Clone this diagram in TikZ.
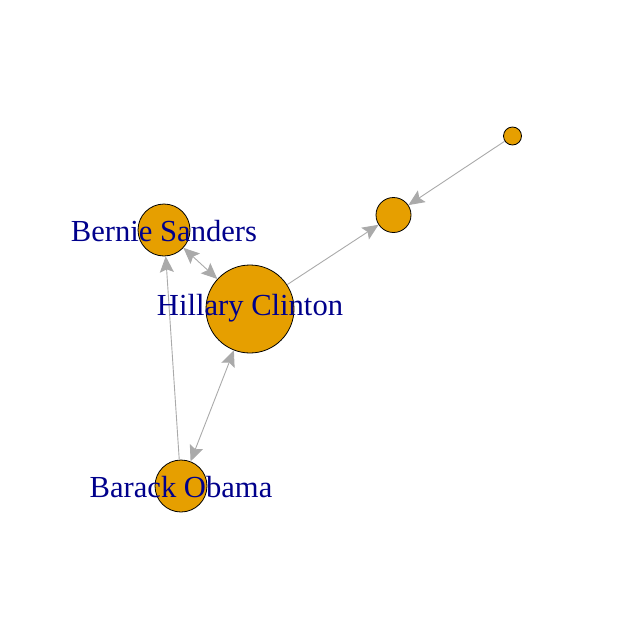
\documentclass[tikz,border=0pt]{standalone}
\usepackage{fontspec}
\setmainfont{Liberation Serif}
\usetikzlibrary{arrows.meta}
\definecolor{vfill}{HTML}{E69F00}
\definecolor{egray}{HTML}{AAAAAA}
\definecolor{lblue}{HTML}{00008B}
\begin{document}
\begin{tikzpicture}[x=1pt,y=-1pt,
  vert/.style={circle,draw=black,fill=vfill,line width=0.8pt,inner sep=0pt},
  lbl/.style={text=lblue,font=\fontsize{30.6}{36}\selectfont,inner sep=0pt},
  tip/.tip={Stealth[length=16pt,width=14pt,inset=3pt]},
  edge/.style={draw=egray,line width=0.9pt,-tip},
  bedge/.style={draw=egray,line width=0.9pt,tip-tip}]
\useasboundingbox (0,0) rectangle (640,640);
\node[vert,minimum size=88pt] (hc) at (250,309) {};
\node[vert,minimum size=52pt] (bs) at (164,230) {};
\node[vert,minimum size=52pt] (bo) at (181,486) {};
\node[vert,minimum size=35pt] (m) at (393.5,215) {};
\node[vert,minimum size=18pt] (s) at (512.5,136) {};
\draw[edge] (s) -- (m);
\draw[edge] (hc) -- (m);
\draw[bedge] (hc) -- (bs);
\draw[bedge] (hc) -- (bo);
\draw[edge] (bo) -- (bs);
\node[lbl] (lhc) at (250,308.5) {Hillary Clinton};
\node[lbl] (lbs) at (164,231.5) {Bernie Sanders};
\node[lbl] (lbo) at (181,487.5) {Barack Obama};
\end{tikzpicture}
\end{document}
